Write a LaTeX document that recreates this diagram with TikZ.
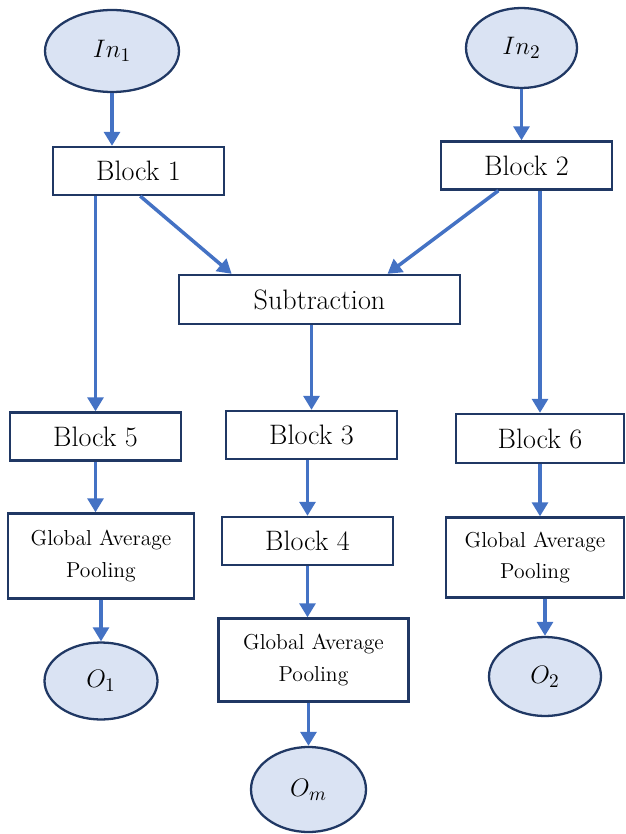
\documentclass[tikz,border=0pt]{standalone}
\usetikzlibrary{shapes.geometric,arrows.meta,calc}
\definecolor{navy}{HTML}{203864}
\definecolor{flowblue}{HTML}{4472C4}
\definecolor{portfill}{HTML}{DAE3F3}
\begin{document}
\begin{tikzpicture}[x=0.02cm, y=-0.02cm]
        % Define styles
        \tikzstyle{block}=[rectangle, draw=navy, line width=1.3pt, fill=white, minimum width=3.42cm, minimum height=0.96cm, inner sep=0pt, font=\fontsize{16}{19}\selectfont]
        \tikzstyle{pool}=[block, align=center, font=\fontsize{12.3}{18}\selectfont]
        \tikzstyle{port}=[ellipse, draw=navy, line width=1.3pt, fill=portfill, inner sep=0pt, font=\fontsize{15}{18}\selectfont]
        \tikzstyle{arrow}=[->, >={Triangle[length=8pt,width=9pt]}, draw=flowblue, line width=2pt]

        \useasboundingbox (0,0) rectangle (625,834);

        % Inputs
        \node[port, minimum width=2.68cm, minimum height=1.64cm] (in1) at (112,51) {$In_1$};
        \node[port, minimum width=2.22cm, minimum height=1.60cm] (in2) at (521.5,48) {$In_2$};

        % First blocks
        \node[block] (blk1) at (138.5,171) {Block 1};
        \node[block] (blk2) at (526.5,165.5) {Block 2};

        % Subtraction
        \node[block, minimum width=5.62cm, minimum height=0.98cm] (sub) at (319.5,299.5) {Subtraction};

        % Middle blocks
        \node[block] (blk5) at (95.5,436.5) {Block 5};
        \node[block] (blk3) at (311.5,435) {Block 3};
        \node[block, minimum width=3.36cm, minimum height=0.98cm] (blk6) at (540,438.5) {Block 6};
        \node[block] (blk4) at (307.5,541) {Block 4};

        % Pooling
        \node[pool, minimum width=3.72cm, minimum height=1.7cm] (gap1) at (101,556) {Global Average\\Pooling};
        \node[pool, minimum width=3.8cm, minimum height=1.66cm] (gapm) at (313.5,660) {Global Average\\Pooling};
        \node[pool, minimum width=3.56cm, minimum height=1.6cm] (gap2) at (535,557.5) {Global Average\\Pooling};

        % Outputs
        \node[port, minimum width=2.26cm, minimum height=1.54cm] (o1) at (101,681) {$O_1$};
        \node[port, minimum width=2.3cm, minimum height=1.7cm] (om) at (308.5,789.5) {$O_m$};
        \node[port, minimum width=2.24cm, minimum height=1.58cm] (o2) at (545,676.5) {$O_2$};

        % Arrows
        \draw[arrow] (in1.south) -- (in1.south |- blk1.north);
        \draw[arrow] (in2.south) -- (in2.south |- blk2.north);
        \draw[arrow] ([xshift=1pt]blk1.south) -- ($(sub.north west)!0.19!(sub.north east)$);
        \draw[arrow] ([xshift=-16pt]blk2.south) -- ($(sub.north west)!0.74!(sub.north east)$);
        \draw[arrow] (blk1.south -| blk5.north) -- (blk5.north);
        \draw[arrow] (blk2.south -| blk6.north) -- (blk6.north);
        \draw[arrow] (sub.south -| blk3.north) -- (blk3.north);
        \draw[arrow] (blk5.south) -- (blk5.south |- gap1.north);
        \draw[arrow] (blk3.south -| blk4.north) -- (blk4.north);
        \draw[arrow] (blk6.south) -- (blk6.south |- gap2.north);
        \draw[arrow] (gap1.south -| o1.north) -- (o1.north);
        \draw[arrow] (blk4.south) -- (blk4.south |- gapm.north);
        \draw[arrow] (gapm.south -| om.north) -- (om.north);
        \draw[arrow] (gap2.south -| o2.north) -- (o2.north);
    \end{tikzpicture}
\end{document}
